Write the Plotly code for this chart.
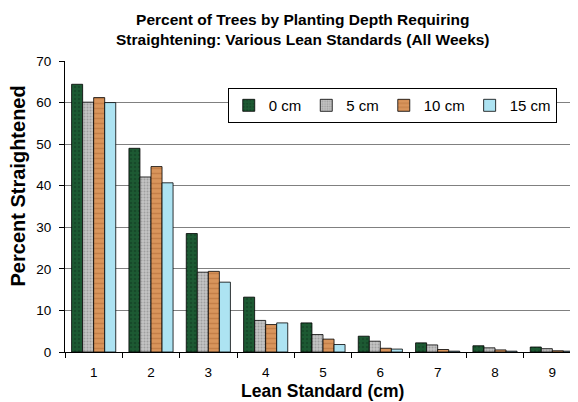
import plotly.graph_objects as go

# ---------------------------------------------------------------------------
# Data
# ---------------------------------------------------------------------------

LEAN_STANDARDS = ["1", "2", "3", "4", "5", "6", "7", "8", "9"]

DEPTH_0_CM  = [64.4, 49.0, 28.5, 13.2, 7.0, 3.8, 2.2, 1.5, 1.2]
DEPTH_5_CM  = [60.1, 42.1, 19.2, 7.6, 4.2, 2.6, 1.7, 1.0, 0.8]
DEPTH_10_CM = [61.2, 44.6, 19.4, 6.6, 3.1, 0.9, 0.6, 0.5, 0.3]
DEPTH_15_CM = [60.0, 40.7, 16.8, 7.0, 1.8, 0.7, 0.2, 0.2, 0.2]

SERIES_NAMES = ["0 cm", "5 cm", "10 cm", "15 cm"]

# ---------------------------------------------------------------------------
# Styling
# ---------------------------------------------------------------------------

_FONT = "Liberation Sans, Arial, sans-serif"
_GRID = "#808080"

_STYLES = [
    dict(color="#1d5a33", pattern=dict(shape=".", fgcolor="#0f3a1f", size=4, solidity=0.3)),
    dict(color="#c4c4c4", pattern=dict(shape=".", fgcolor="#7a7a7a", size=3, solidity=0.35)),
    dict(color="#d9955c", pattern=dict(shape="-", fgcolor="#b06a35", size=5, solidity=0.3)),
    dict(color="#ade3f2", pattern=dict(shape="", fgcolor="#7fc8de")),
]

fig = go.Figure()

for name, values, style in zip(
    SERIES_NAMES,
    [DEPTH_0_CM, DEPTH_5_CM, DEPTH_10_CM, DEPTH_15_CM],
    _STYLES,
):
    fig.add_trace(go.Bar(
        x=LEAN_STANDARDS,
        y=values,
        name=name,
        marker=dict(
            color=style["color"],
            pattern=style["pattern"],
            line=dict(color="#000000", width=0.8),
        ),
    ))

# axis titles sit slightly off-centre in the reference, so they are annotations
fig.add_annotation(
    text="<b>Percent Straightened</b>",
    xref="paper", yref="paper",
    x=-0.091, y=0.569,
    xanchor="center", yanchor="middle",
    textangle=-90,
    showarrow=False,
    font=dict(size=20),
)
fig.add_annotation(
    text="<b>Lean Standard (cm)</b>",
    xref="paper", yref="paper",
    x=0.499, y=-0.134,
    xanchor="center", yanchor="middle",
    showarrow=False,
    font=dict(size=17.5),
)

# the page body adds an 8px offset; the plot area runs off the right edge
# of the window, as it does in the (cropped) reference
fig.update_layout(
    width=578,
    height=402,
    paper_bgcolor="white",
    plot_bgcolor="white",
    font=dict(family=_FONT, color="#000000", size=13),
    margin=dict(l=57, r=5, t=53, b=58, autoexpand=False),
    barmode="group",
    bargap=0.23,
    bargroupgap=0,
    title=dict(
        text="Percent of Trees by Planting Depth Requiring<br>"
             "Straightening: Various Lean Standards (All Weeks)",
        font=dict(family=_FONT, size=15.5, color="#000000", weight="bold"),
        x=0.51,
        xanchor="center",
        y=0.957,
        yanchor="middle",
    ),
    xaxis=dict(
        type="category",
        tickson="boundaries",
        ticks="outside",
        ticklen=5,
        tickcolor="#000000",
        ticklabelstandoff=8,
        showline=True,
        linecolor="#000000",
        linewidth=1,
        showgrid=False,
        automargin=False,
        tickfont=dict(size=13.5),
    ),
    yaxis=dict(
        range=[0, 70],
        dtick=10,
        ticks="outside",
        ticklen=5,
        tickcolor="#000000",
        ticklabelstandoff=5,
        showline=True,
        linecolor="#000000",
        linewidth=1,
        showgrid=True,
        gridcolor=_GRID,
        gridwidth=1,
        zeroline=False,
        automargin=False,
        tickfont=dict(size=13.5),
    ),
    legend=dict(
        orientation="h",
        x=0.953,
        xanchor="right",
        y=0.907,
        yanchor="top",
        bgcolor="white",
        bordercolor="#000000",
        borderwidth=1,
        font=dict(size=15),
        itemwidth=30,
        tracegroupgap=0,
    ),
)

fig.write_html("out.html")
